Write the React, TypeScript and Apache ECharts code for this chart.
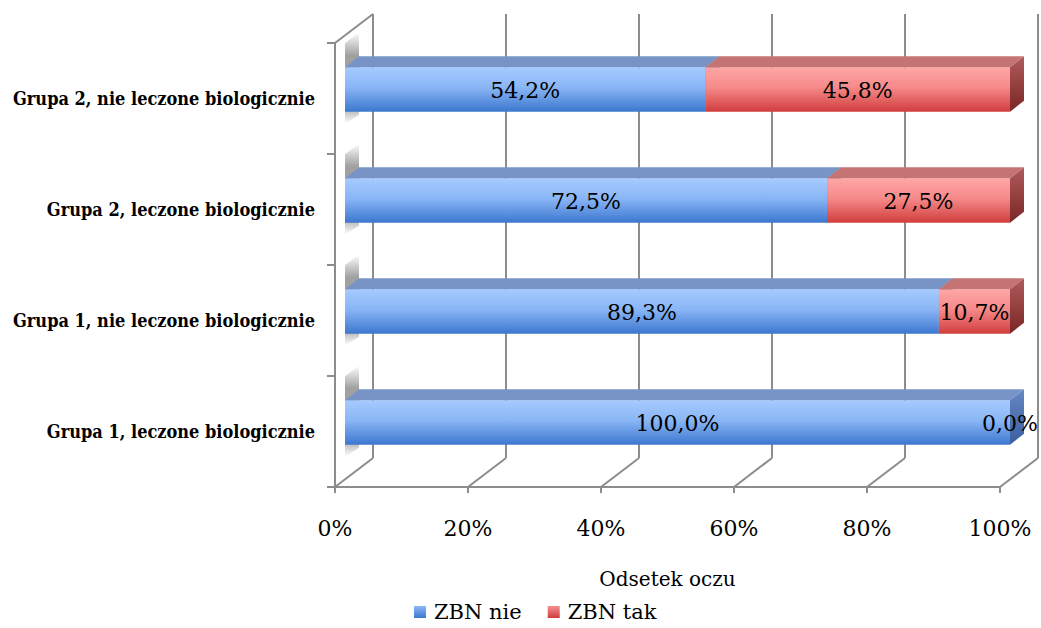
import React, { useEffect, useRef } from "react";
import * as echarts from "echarts";

// Categories listed bottom to top (category y axis grows upward)
const CATEGORIES = [
  "Grupa 1, leczone biologicznie",
  "Grupa 1, nie leczone biologicznie",
  "Grupa 2, leczone biologicznie",
  "Grupa 2, nie leczone biologicznie",
];
const ZBN_NIE = [100.0, 89.3, 72.5, 54.2];
const ZBN_TAK = [0.0, 10.7, 27.5, 45.8];
const X_TICKS = [0, 20, 40, 60, 80, 100];
const SERIES_NAMES = ["ZBN nie", "ZBN tak"];

// 3D projection offsets (pixels)
const WALL_DX = 38;
const WALL_DY = -29;
const BAR_FX = 10;
const BAR_FY = -9;
const BAR_DX = 14;
const BAR_DY = -11;

const LINE_COLOR = "#8c8c8c";
const SERIF = '"DejaVu Serif", "Liberation Serif", serif';
const SERIF_COND = '"DejaVu Serif Condensed", "Liberation Serif", serif';

const fmt = (v: number) => v.toFixed(1).replace(".", ",") + "%";

const grad = (stops: [number, string][]) =>
  new echarts.graphic.LinearGradient(
    0,
    0,
    0,
    1,
    stops.map(([offset, color]) => ({ offset, color }))
  );

const PALETTE = [
  {
    front: () => grad([[0, "#a6caff"], [0.45, "#8ab6f6"], [1, "#3c77cf"]]),
    top: "#7894c6",
    side: () => grad([[0, "#6587c2"], [1, "#3a5f9f"]]),
    legend: () => grad([[0, "#8fb8f5"], [1, "#3c77cf"]]),
  },
  {
    front: () => grad([[0, "#ffa6a6"], [0.45, "#f68a8a"], [1, "#d13d3d"]]),
    top: "#c57474",
    side: () => grad([[0, "#b05c5c"], [1, "#7a2626"]]),
    legend: () => grad([[0, "#f59090"], [1, "#d13d3d"]]),
  },
];

// Stacked rows: [start, end, categoryIndex, value]
const stackedRows = (values: number[], bases: number[]) =>
  values.map((v, i) => [bases[i], bases[i] + v, i, v]);

const SERIES_ROWS = [
  stackedRows(ZBN_NIE, ZBN_NIE.map(() => 0)),
  stackedRows(ZBN_TAK, ZBN_NIE),
];

function makeBarRenderer(idx: number) {
  const pal = PALETTE[idx];
  return (params: any, api: any) => {
    const start = api.value(0);
    const end = api.value(1);
    const cat = api.value(2);
    const val = api.value(3);
    const p0 = api.coord([start, cat]);
    const p1 = api.coord([end, cat]);
    const band = api.size([0, 1])[1];
    const h = band * 0.4;
    const x0 = p0[0] + BAR_FX;
    const x1 = p1[0] + BAR_FX;
    const yT = p0[1] + BAR_FY - h / 2;
    const yB = yT + h;
    const children: any[] = [];

    if (start === 0) {
      // soft shadow cast on the left wall
      children.push({
        type: "polygon",
        shape: {
          points: [
            [x0, yT - 24],
            [x0 + BAR_DX, yT + BAR_DY - 24],
            [x0 + BAR_DX, yB + BAR_DY + 14],
            [x0, yB + 12],
          ],
        },
        style: {
          fill: grad([
            [0, "rgba(110,110,110,0)"],
            [0.25, "rgba(110,110,110,0.65)"],
            [0.8, "rgba(110,110,110,0.65)"],
            [1, "rgba(110,110,110,0)"],
          ]),
        },
        silent: true,
      });
    }

    if (x1 - x0 > 0.5) {
      children.push({
        type: "rect",
        shape: { x: x0, y: yT, width: x1 - x0, height: h },
        style: { fill: pal.front() },
      });
      children.push({
        type: "polygon",
        shape: {
          points: [
            [x0, yT],
            [x1, yT],
            [x1 + BAR_DX, yT + BAR_DY],
            [x0 + BAR_DX, yT + BAR_DY],
          ],
        },
        style: { fill: pal.top },
      });
      children.push({
        type: "polygon",
        shape: {
          points: [
            [x1, yT],
            [x1 + BAR_DX, yT + BAR_DY],
            [x1 + BAR_DX, yB + BAR_DY],
            [x1, yB],
          ],
        },
        style: { fill: pal.side() },
      });
    }

    children.push({
      type: "text",
      z2: 10,
      style: {
        text: fmt(val),
        x: (x0 + x1) / 2,
        y: (yT + yB) / 2 + 1,
        align: "center",
        verticalAlign: "middle",
        fontSize: 22,
        fontFamily: SERIF,
        fill: "#000",
      },
    });

    return { type: "group", children };
  };
}

function renderFrame(params: any, api: any) {
  const v = api.value(0);
  const cs = params.coordSys;
  const x = api.coord([v, 0])[0];
  const yt = cs.y;
  const yb = cs.y + cs.height;
  const lineStyle = { stroke: LINE_COLOR, lineWidth: 2 };
  const children: any[] = [
    {
      type: "line",
      shape: { x1: x + WALL_DX, y1: yt + WALL_DY, x2: x + WALL_DX, y2: yb + WALL_DY },
      style: lineStyle,
    },
    {
      type: "line",
      shape: { x1: x, y1: yb, x2: x + WALL_DX, y2: yb + WALL_DY },
      style: lineStyle,
    },
  ];
  if (v === X_TICKS[0]) {
    children.push({
      type: "line",
      shape: { x1: x, y1: yt, x2: x + WALL_DX, y2: yt + WALL_DY },
      style: lineStyle,
    });
  }
  return { type: "group", children, silent: true };
}

export default function App() {
  const ref = useRef<HTMLDivElement>(null);

  useEffect(() => {
    if (!ref.current) return;
    const chart = echarts.init(ref.current, null, { renderer: "svg" });

    chart.setOption({
      animation: false,
      backgroundColor: "#ffffff",
      grid: { left: 335, right: 41, top: 43, bottom: 141, containLabel: false },
      legend: {
        data: SERIES_NAMES,
        left: 414,
        top: 601,
        padding: 0,
        icon: "rect",
        itemWidth: 12,
        itemHeight: 12,
        itemGap: 26,
        textStyle: {
          fontSize: 21,
          lineHeight: 22,
          fontFamily: SERIF,
          color: "#000",
          padding: [0, 0, 0, 3],
        },
        selectedMode: false,
      },
      xAxis: {
        type: "value",
        min: 0,
        max: 100,
        interval: 20,
        name: "Odsetek oczu",
        nameLocation: "middle",
        nameGap: 82,
        nameTextStyle: { fontSize: 20, fontFamily: SERIF, color: "#000" },
        axisLine: { show: true, lineStyle: { color: LINE_COLOR, width: 2 } },
        axisTick: { show: true, length: 6, lineStyle: { color: LINE_COLOR, width: 2 } },
        axisLabel: {
          formatter: "{value}%",
          margin: 30,
          fontSize: 22,
          fontFamily: SERIF,
          color: "#000",
        },
        splitLine: { show: false },
      },
      yAxis: {
        type: "category",
        data: CATEGORIES,
        axisLine: { show: true, lineStyle: { color: LINE_COLOR, width: 2 } },
        axisTick: { show: true, length: 8, lineStyle: { color: LINE_COLOR, width: 2 } },
        axisLabel: {
          margin: 20,
          fontSize: 18,
          fontWeight: "bold",
          fontFamily: SERIF_COND,
          color: "#000",
        },
        splitLine: { show: false },
      },
      series: [
        {
          type: "custom",
          name: "frame",
          renderItem: renderFrame,
          data: X_TICKS.map((v) => [v, 0]),
          encode: { x: 0, y: 1 },
          silent: true,
        },
        ...SERIES_NAMES.map((name, idx) => ({
          type: "custom",
          name,
          renderItem: makeBarRenderer(idx),
          data: SERIES_ROWS[idx],
          encode: { x: [0, 1], y: 2 },
          itemStyle: { color: PALETTE[idx].legend() },
        })),
      ],
    });

    return () => chart.dispose();
  }, []);

  return (
    <div
      ref={ref}
      style={{ position: "absolute", left: 0, top: 0, width: 1041, height: 628 }}
    />
  );
}
